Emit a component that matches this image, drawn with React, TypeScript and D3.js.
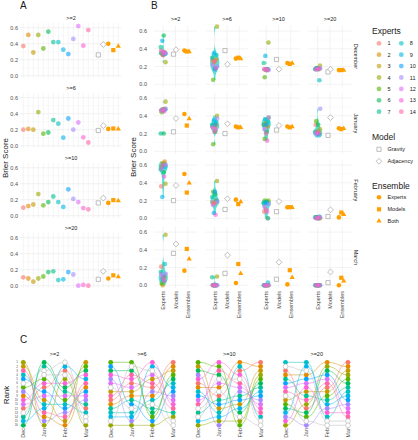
import React from "react";
import * as d3 from "d3";

const FONT = "'Liberation Sans', Arial, Helvetica, sans-serif";

// ---------- categories ----------
const thresholds = [">=2", ">=6", ">=10", ">=20"];
const monthNames = ["December", "January", "February", "March"];
const monthShort = ["Dec", "Jan", "Feb", "Mar"];
const expertIds = ["1", "2", "3", "4", "5", "6", "7", "8", "9", "10", "11", "12", "13", "14"];
const expertColors = ["#F8766D", "#E38900", "#C49A00", "#99A800", "#53B400", "#00BC56", "#00C094",
  "#00BFC4", "#00B6EB", "#06A4FF", "#A58AFF", "#DF70F8", "#FB61D7", "#FF66A8"];
const bCategories = ["Experts", "Models", "Ensembles"];
const modelNames = ["Gravity", "Adjacency"];
const ensembleNames = ["Experts", "Models", "Both"];
const yTicks = [0, 0.2, 0.4, 0.6];
const yMinor = [0.1, 0.3, 0.5];

// ---------- Panel A: overall Brier score per threshold ----------
const overallExpertScores = [
  [0.37, 0.51, 0.29, 0.51, 0.34, 0.55, 0.42, 0.42, 0.325, 0.27, 0.46, 0.62, 0.375, 0.57],
  [0.20, 0.21, 0.20, 0.42, 0.15, 0.165, 0.32, 0.275, 0.10, 0.34, 0.20, 0.29, 0.105, 0.04],
  [0.10, 0.12, 0.14, 0.27, 0.13, 0.17, 0.24, 0.17, 0.11, 0.33, 0.21, 0.17, 0.095, 0.08],
  [0.105, 0.09, 0.05, 0.09, 0.115, 0.17, 0.18, 0.07, 0.08, 0.17, 0.14, 0.0, 0.01, 0.0],
];
const overallGravity = [0.26, 0.19, 0.16, 0.08];
const overallAdjacency = [0.39, 0.25, 0.22, 0.18];
const overallEnsExperts = [0.40, 0.21, 0.16, 0.09];
const overallEnsModels = [0.32, 0.215, 0.195, 0.13];
const overallEnsBoth = [0.37, 0.21, 0.19, 0.115];

// ---------- Panel B: per month x threshold ----------
const decExperts = [
  [0.38, 0.36, 0.33, 0.25, 0.35, 0.55, 0.42, 0.34, 0.49, 0.34, 0.35, 0.37, 0.36, 0.33],
  [0.27, 0.28, 0.25, 0.65, 0.05, 0.18, 0.30, 0.33, 0.35, 0.17, 0.20, 0.22, 0.18, 0.26],
  [0.17, 0.17, 0.16, 0.47, 0.08, 0.16, 0.24, 0.17, 0.32, 0.17, 0.16, 0.17, 0.16, 0.17],
  [0.17, 0.17, 0.18, 0.21, 0.18, 0.18, 0.17, 0.045, 0.18, 0.17, 0.18, 0.17, 0.18, 0.17],
];
const janExperts = [
  [0.46, 0.48, 0.47, 0.56, 0.44, 0.20, 0.20, 0.47, 0.47, 0.46, 0.48, 0.46, 0.45, 0.47],
  [0.27, 0.30, 0.28, 0.40, 0.08, 0.22, 0.30, 0.33, 0.35, 0.30, 0.37, 0.27, 0.25, 0.22],
  [0.30, 0.28, 0.32, 0.38, 0.14, 0.22, 0.30, 0.33, 0.36, 0.30, 0.38, 0.25, 0.12, 0.20],
  [0.30, 0.20, 0.22, 0.25, 0.34, 0.30, 0.22, 0.18, 0.18, 0.20, 0.48, 0.20, 0.20, 0.22],
];
const febExperts = [
  [0.36, 0.64, 0.62, 0.39, 0.58, 0.52, 0.55, 0.58, 0.24, 0.60, 0.60, 0.56, 0.47, 0.60],
  [0.18, 0.20, 0.17, 0.42, 0.30, 0.27, 0.24, 0.20, 0.06, 0.30, 0.19, 0.15, 0.04, 0.17],
  [0.075, 0.0, 0.18, 0.20, 0.20, 0.19, 0.17, 0.0, 0.18, 0.17, 0.16, 0.13, 0.075, 0.10],
  [0.01, 0.0, 0.01, 0.0, 0.01, 0.0, 0.01, 0.02, 0.01, 0.0, 0.01, 0.0, 0.01, 0.0],
];
const marExperts = [
  [0.21, 0.10, 0.0, 0.57, 0.02, 0.05, 0.15, 0.24, 0.07, 0.10, 0.13, 0.12, 0.05, 0.08],
  [0.0, 0.0, 0.0, 0.10, 0.0, 0.0, 0.09, 0.0, 0.0, 0.0, 0.0, 0.0, 0.0, 0.0],
  [0.0, 0.0, 0.0, 0.0, 0.0, 0.0, 0.0, 0.03, 0.0, 0.0, 0.0, 0.0, 0.0, 0.0],
  [0.0, 0.0, 0.0, 0.0, 0.0, 0.0, 0.0, 0.0, 0.0, 0.0, 0.0, 0.0, 0.0, 0.0],
];
const gravityB = [
  [0.34, 0.38, 0.28, 0.14],
  [0.22, 0.20, 0.24, 0.18],
  [0.20, 0.10, 0.075, 0.02],
  [0.36, 0.135, 0.068, 0.03],
];
const adjacencyB = [
  [0.39, 0.226, 0.17, 0.17],
  [0.37, 0.31, 0.29, 0.38],
  [0.37, 0.22, 0.19, 0.095],
  [0.465, 0.34, 0.26, 0.15],
];
const ensExpertsB = [
  [0.38, 0.29, 0.24, 0.16],
  [0.42, 0.28, 0.28, 0.26],
  [0.50, 0.21, 0.125, 0.01],
  [0.165, 0.026, 0.01, 0.0],
];
const ensModelsB = [
  [0.37, 0.30, 0.23, 0.16],
  [0.29, 0.27, 0.27, 0.25],
  [0.29, 0.16, 0.125, 0.065],
  [0.41, 0.24, 0.17, 0.085],
];
const ensBothB = [
  [0.37, 0.29, 0.24, 0.16],
  [0.37, 0.27, 0.28, 0.26],
  [0.40, 0.19, 0.125, 0.045],
  [0.30, 0.135, 0.09, 0.05],
];
const rankTicks = d3.range(1, 17);

// ---------- styles ----------
const ORANGE = "#FFA000";
const MODEL_GREY = "#ADADAD";
const GRID = "#EBEBEB";
const GRID_MINOR = "#F4F4F4";
const TICK = "#4D4D4D";
const VIOLIN = "#3EDCCD";
const jitterPx = [-2.5, 1.8, -0.6, 2.9, -1.9, 0.7, -3.1, 2.2, -1.1, 0.3, 3.2, -2.2, 1.2, -0.2];

function sq(cx: number, cy: number, s: number) {
  return `M${cx - s / 2},${cy - s / 2}h${s}v${s}h${-s}Z`;
}
function diamond(cx: number, cy: number, s: number) {
  return `M${cx},${cy - s}L${cx + s},${cy}L${cx},${cy + s}L${cx - s},${cy}Z`;
}
function tri(cx: number, cy: number, s: number) {
  const h = s * 0.866;
  return `M${cx},${cy - h * 0.62}L${cx + s / 2},${cy + h * 0.38}L${cx - s / 2},${cy + h * 0.38}Z`;
}

function violinPath(values: number[], cx: number, y: (v: number) => number, maxHalf: number) {
  const lo = d3.min(values)!, hi = d3.max(values)!;
  if (hi - lo < 1e-6) return null;
  const sorted = values.slice().sort(d3.ascending);
  const sd = d3.deviation(values) || 0;
  const iqr = (d3.quantileSorted(sorted, 0.75)! - d3.quantileSorted(sorted, 0.25)!) / 1.34;
  let s = Math.min(sd, iqr);
  if (!(s > 0)) s = sd || 0.05;
  const bw = 0.9 * s * Math.pow(values.length, -0.2);
  const ys = d3.range(0, 61).map((i) => lo + ((hi - lo) * i) / 60);
  const dens = ys.map((v) => d3.sum(values, (x) => Math.exp(-0.5 * ((v - x) / bw) ** 2)));
  const dmax = d3.max(dens)!;
  const pts = ys.map((v, i) => [cx + (maxHalf * dens[i]) / dmax, y(v)] as [number, number]);
  const left = ys.map((v, i) => [cx - (maxHalf * dens[i]) / dmax, y(v)] as [number, number]).reverse();
  return d3.line()([...pts, ...left]) + "Z";
}

export default function App() {
  const els: React.ReactNode[] = [];
  let k = 0;
  const key = () => `k${k++}`;
  const text = (x: number, y: number, s: string, size: number, opts: any = {}) =>
    els.push(
      <text key={key()} x={x} y={y} fontSize={size} fontFamily={FONT} fill={opts.fill || "#1A1A1A"}
        textAnchor={opts.anchor || "start"} dominantBaseline={opts.baseline || "auto"}
        transform={opts.rotate ? `rotate(${opts.rotate},${x},${y})` : undefined}>{s}</text>
    );

  // ===================== Panel A =====================
  text(20, 9, "A", 10);
  const slots = [...expertIds, "gap", "Gravity", "Adjacency", "EnsExperts", "EnsModels", "EnsBoth"];
  const xA = d3.scalePoint<string>().domain(slots).range([23.3, 118.3]);
  thresholds.forEach((th, f) => {
    const yA = d3.scaleLinear().domain([0, 0.6]).range([75.7 + 70 * f, 27.7 + 70 * f]);
    const top = yA(0.66), bot = yA(-0.03);
    yMinor.forEach((v) => els.push(<line key={key()} x1={20} x2={121.5} y1={yA(v)} y2={yA(v)} stroke={GRID_MINOR} strokeWidth={0.4} />));
    slots.forEach((s) => els.push(<line key={key()} x1={xA(s)} x2={xA(s)} y1={top} y2={bot} stroke={GRID} strokeWidth={0.5} />));
    yTicks.forEach((v) => {
      els.push(<line key={key()} x1={20} x2={121.5} y1={yA(v)} y2={yA(v)} stroke={GRID} strokeWidth={0.6} />);
      text(18, yA(v), v.toFixed(1), 5.5, { anchor: "end", baseline: "central", fill: TICK });
    });
    text(71, top - 3, th, 5.5, { anchor: "middle" });
    overallExpertScores[f].forEach((v, i) =>
      els.push(<circle key={key()} cx={xA(expertIds[i])} cy={yA(v)} r={2.4} fill={expertColors[i]} fillOpacity={0.6} />)
    );
    els.push(<path key={key()} d={sq(xA("Gravity")!, yA(overallGravity[f]), 4.2)} fill="white" stroke={MODEL_GREY} strokeWidth={0.8} />);
    els.push(<path key={key()} d={diamond(xA("Adjacency")!, yA(overallAdjacency[f]), 2.9)} fill="white" stroke={MODEL_GREY} strokeWidth={0.8} />);
    els.push(<circle key={key()} cx={xA("EnsExperts")} cy={yA(overallEnsExperts[f])} r={2.3} fill={ORANGE} />);
    els.push(<path key={key()} d={sq(xA("EnsModels")!, yA(overallEnsModels[f]), 4.2)} fill={ORANGE} />);
    els.push(<path key={key()} d={tri(xA("EnsBoth")!, yA(overallEnsBoth[f]), 5.2)} fill={ORANGE} />);
  });
  text(8, 158, "Brier Score", 8, { anchor: "middle", rotate: -90 });

  // ===================== Panel B =====================
  text(151, 9, "B", 10);
  const monthExperts = [decExperts, janExperts, febExperts, marExperts];
  thresholds.forEach((th, c) => {
    const mc = 175.5 + 51.5 * c;
    const xB = d3.scalePoint<string>().domain(bCategories).range([mc - 12.3, mc + 12.3]);
    text(mc, 21, th, 5.5, { anchor: "middle" });
    monthNames.forEach((mn, r) => {
      const yB = d3.scaleLinear().domain([0, 0.6]).range([84.3 + 67 * r, 84.3 + 67 * r - 0.6 * 88.7]);
      const top = yB(0.66), bot = yB(-0.03);
      yMinor.forEach((v) => els.push(<line key={key()} x1={mc - 21.5} x2={mc + 21.5} y1={yB(v)} y2={yB(v)} stroke={GRID_MINOR} strokeWidth={0.4} />));
      yTicks.forEach((v) => els.push(<line key={key()} x1={mc - 21.5} x2={mc + 21.5} y1={yB(v)} y2={yB(v)} stroke={GRID} strokeWidth={0.6} />));
      bCategories.forEach((b) => els.push(<line key={key()} x1={xB(b)} x2={xB(b)} y1={top} y2={bot} stroke={GRID} strokeWidth={0.6} />));
      if (c === 0) yTicks.forEach((v) => text(147, yB(v), v.toFixed(1), 5.5, { anchor: "end", baseline: "central", fill: TICK }));
      if (c === 3) text(356, (top + bot) / 2, mn, 5.5, { anchor: "middle", rotate: 90, baseline: "central" });
      const vals = monthExperts[r][c];
      const ex = xB("Experts")!;
      const vp = violinPath(vals, ex, yB, 4.6);
      if (vp) els.push(<path key={key()} d={vp} fill={VIOLIN} fillOpacity={0.85} />);
      vals.forEach((v, i) =>
        els.push(<circle key={key()} cx={ex + jitterPx[i] * 0.8} cy={yB(v)} r={2.3} fill={expertColors[i]} fillOpacity={0.6} />)
      );
      const mx = xB("Models")!;
      els.push(<path key={key()} d={sq(mx - 2, yB(gravityB[r][c]), 4.2)} fill="white" stroke={MODEL_GREY} strokeWidth={0.8} />);
      els.push(<path key={key()} d={diamond(mx + 0.5, yB(adjacencyB[r][c]), 2.9)} fill="white" stroke={MODEL_GREY} strokeWidth={0.8} />);
      const nx = xB("Ensembles")!;
      els.push(<circle key={key()} cx={nx - 3.4} cy={yB(ensExpertsB[r][c])} r={2.3} fill={ORANGE} />);
      els.push(<path key={key()} d={sq(nx - 1, yB(ensModelsB[r][c]), 4.2)} fill={ORANGE} />);
      els.push(<path key={key()} d={tri(nx + 1.4, yB(ensBothB[r][c]), 5.2)} fill={ORANGE} />);
      if (r === 3) bCategories.forEach((b) => text(xB(b)!, 291, b, 5.5, { anchor: "end", rotate: -90, baseline: "central", fill: TICK }));
    });
  });
  text(136, 157, "Brier Score", 8, { anchor: "middle", rotate: -90 });

  // ===================== Legend =====================
  text(372, 34, "Experts", 8.5);
  expertIds.forEach((id, i) => {
    const col = Math.floor(i / 7), row = i % 7;
    const cy = 43.3 + 11.4 * row;
    const cx = 379 + 22.3 * col;
    els.push(<circle key={key()} cx={cx} cy={cy} r={2.4} fill={expertColors[i]} fillOpacity={0.6} />);
    text(cx + 8.5, cy, id, 5.5, { baseline: "central" });
  });
  text(372, 140, "Model", 8.5);
  els.push(<path key={key()} d={sq(379, 149.3, 4.2)} fill="white" stroke={MODEL_GREY} strokeWidth={0.8} />);
  text(387.5, 149.3, modelNames[0], 5.5, { baseline: "central" });
  els.push(<path key={key()} d={diamond(379, 161.3, 2.9)} fill="white" stroke={MODEL_GREY} strokeWidth={0.8} />);
  text(387.5, 161.3, modelNames[1], 5.5, { baseline: "central" });
  text(372, 188.5, "Ensemble", 8.5);
  els.push(<circle key={key()} cx={379} cy={197.3} r={2.3} fill={ORANGE} />);
  text(387.5, 197.3, ensembleNames[0], 5.5, { baseline: "central" });
  els.push(<path key={key()} d={sq(379, 209.3, 4.2)} fill={ORANGE} />);
  text(387.5, 209.3, ensembleNames[1], 5.5, { baseline: "central" });
  els.push(<path key={key()} d={tri(379, 220.7, 5.2)} fill={ORANGE} />);
  text(387.5, 220.7, ensembleNames[2], 5.5, { baseline: "central" });

  // ===================== Panel C =====================
  text(20, 343, "C", 10);
  const yR = d3.scaleLinear().domain([1, 16]).range([362.3, 425.3]);
  thresholds.forEach((th, f) => {
    const x0 = 23.3 + 87.4 * f;
    const xC = d3.scalePoint<string>().domain(monthShort).range([x0, x0 + 62.5]);
    rankTicks.forEach((rk) => els.push(<line key={key()} x1={x0 - 4} x2={x0 + 66.5} y1={yR(rk)} y2={yR(rk)} stroke={GRID_MINOR} strokeWidth={0.4} />));
    monthShort.forEach((m) => {
      els.push(<line key={key()} x1={xC(m)} x2={xC(m)} y1={358} y2={428} stroke={GRID} strokeWidth={0.5} />);
      text(xC(m)!, 428, m, 5.5, { anchor: "end", rotate: -90, baseline: "central", fill: TICK });
    });
    text(x0 + 31.2, 356, th, 5.5, { anchor: "middle" });
    if (f === 0) rankTicks.forEach((rk) => text(18, yR(rk), String(rk), 3, { anchor: "end", baseline: "central", fill: TICK }));
    const ranks: number[][] = monthExperts.map((me, m) => {
      const vals = [...me[f], gravityB[m][f], adjacencyB[m][f]];
      const order = d3.range(vals.length).sort((a, b) => vals[a] - vals[b] || a - b);
      const rk: number[] = new Array(vals.length);
      order.forEach((idx, pos) => (rk[idx] = pos + 1));
      return rk;
    });
    const line = d3.line<[number, number]>().curve(d3.curveBumpX);
    const nItems = 16;
    for (let i = 0; i < nItems; i++) {
      const isModel = i >= 14;
      const pts = monthShort.map((m, mi) => [xC(m)!, yR(ranks[mi][i])] as [number, number]);
      els.push(<path key={key()} d={line(pts)!} fill="none" stroke={isModel ? "#BDBDBD" : expertColors[i]} strokeOpacity={0.55} strokeWidth={0.9} />);
    }
    for (let i = 0; i < nItems; i++) {
      const isModel = i >= 14;
      monthShort.forEach((m, mi) =>
        els.push(<circle key={key()} cx={xC(m)} cy={yR(ranks[mi][i])} r={2.4}
          fill={isModel ? "white" : expertColors[i]} stroke={isModel ? "#BDBDBD" : "none"} strokeWidth={0.7} />)
      );
    }
  });
  text(9, 395, "Rank", 8, { anchor: "middle", rotate: -90 });

  return (
    <svg width={418} height={440} style={{ position: "absolute", left: 0, top: 0, background: "white" }}>
      <rect width={418} height={440} fill="white" />
      {els}
    </svg>
  );
}
